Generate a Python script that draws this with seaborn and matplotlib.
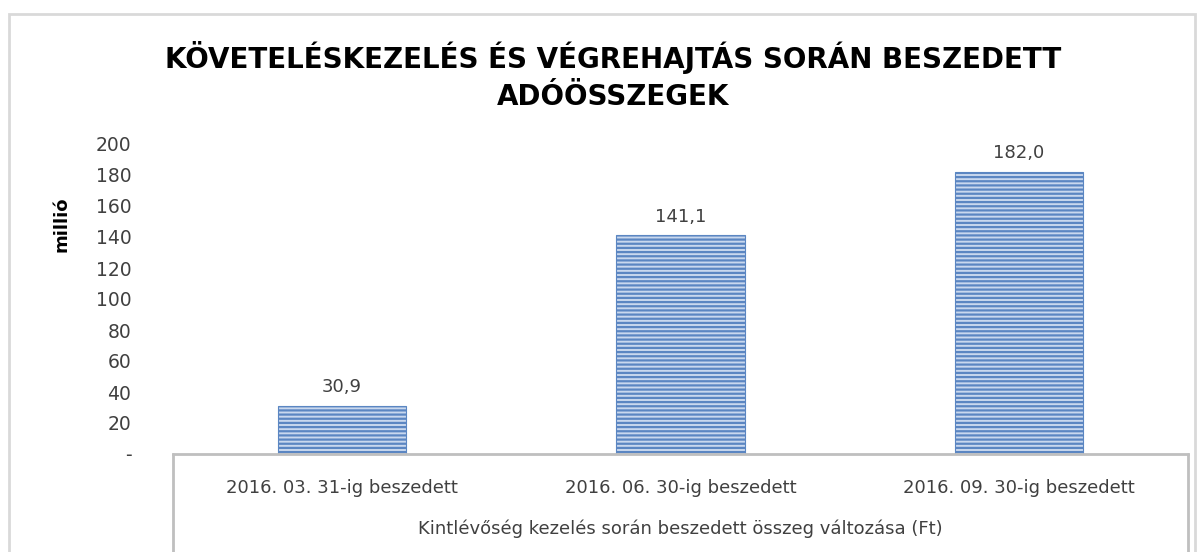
import pandas as pd
from matplotlib import pyplot as plt
from matplotlib.patches import Rectangle
import seaborn as sns

# chart values
categories = ['2016. 03. 31-ig beszedett', '2016. 06. 30-ig beszedett', '2016. 09. 30-ig beszedett']
amounts = [30.9, 141.1, 182.0]
value_labels = ['30,9', '141,1', '182,0']
y_ticks = [0, 20, 40, 60, 80, 100, 120, 140, 160, 180, 200]
y_tick_labels = ['-', '20', '40', '60', '80', '100', '120', '140', '160', '180', '200']
title = 'KÖVETELÉSKEZELÉS ÉS VÉGREHAJTÁS SORÁN BESZEDETT\nADÓÖSSZEGEK'
x_title = 'Kintlévőség kezelés során beszedett összeg változása (Ft)'
y_title = 'millió'

sns.set_style('white')
plt.rcParams['font.family'] = ['DejaVu Sans']
plt.rcParams['hatch.linewidth'] = 1.6

data = pd.DataFrame({'cat': categories, 'val': amounts})

fig = plt.figure(figsize=(12.03, 5.52), dpi=100)
ax = fig.add_axes([173/1203, 1 - 454/552, (1188 - 173)/1203, 310/552])

sns.barplot(data=data, x='cat', y='val', ax=ax, width=0.38,
            color='#c9d8ee', edgecolor='#5b86c2', linewidth=0.8, saturation=1)
for p in ax.patches:
    p.set_hatch('----')

for i, (v, lab) in enumerate(zip(amounts, value_labels)):
    ax.annotate(lab, (i, v), xytext=(0, 7), textcoords='offset points',
                ha='center', va='bottom', fontsize=13, color='#404040')

ax.set_ylim(0, 200)
ax.set_xlim(-0.5, 2.5)
ax.set_yticks(y_ticks)
ax.set_yticklabels(y_tick_labels)
ax.tick_params(axis='y', length=0, pad=30, labelsize=13.5, labelcolor='#404040')
ax.tick_params(axis='x', length=0, pad=18, labelsize=13, labelcolor='#404040')
ax.set_xlabel(x_title, fontsize=13, color='#404040', labelpad=16)
ax.set_ylabel(y_title, fontsize=13, fontweight='bold', color='black')
ax.yaxis.set_label_coords(-0.101, 0.74)

for s in ['top', 'right', 'left']:
    ax.spines[s].set_visible(False)
ax.spines['bottom'].set_color('#bfbfbf')
ax.spines['bottom'].set_linewidth(2)

# category box sides
for xx in [0, 1]:
    ax.plot([xx, xx], [0, -0.32], transform=ax.transAxes, color='#bfbfbf',
            lw=2, clip_on=False)

fig.text(613/1203, 1 - 76/552, title, ha='center', va='center', fontsize=20,
         fontweight='bold', color='black', linespacing=1.45)

fig.patches.append(Rectangle((9/1203, -0.05), (1195 - 9)/1203, 1.05 - 14/552,
                             transform=fig.transFigure, fill=False,
                             edgecolor='#d9d9d9', lw=2))

fig.savefig('out.png', dpi=100)
